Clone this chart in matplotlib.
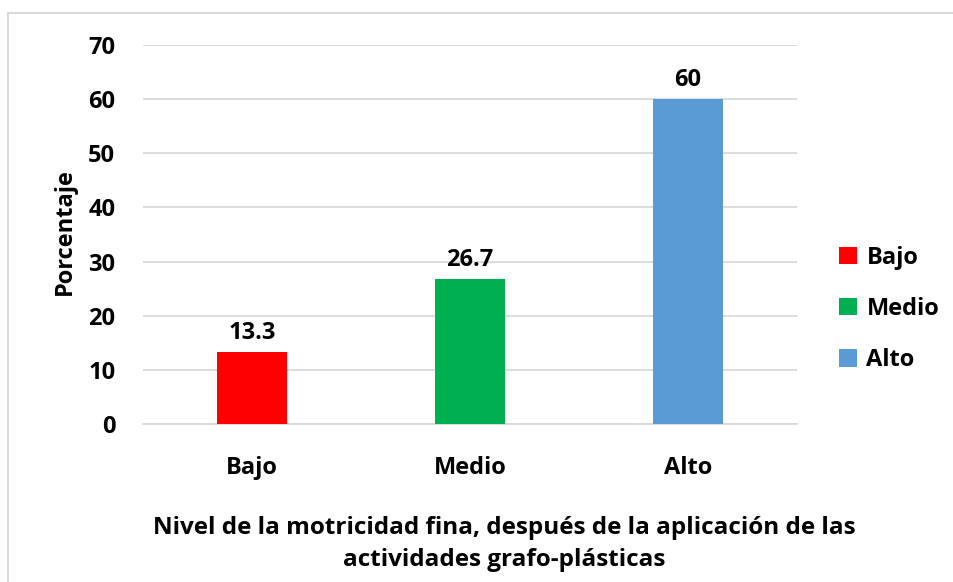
import matplotlib
matplotlib.use("Agg")
import matplotlib.pyplot as plt
from matplotlib.lines import Line2D
from matplotlib.patches import Patch

categories = ["Bajo", "Medio", "Alto"]
values = [13.3, 26.7, 60]
value_labels = ["13.3", "26.7", "60"]
colors = ["#ff0000", "#00b050", "#5b9bd5"]
yticks = [0, 10, 20, 30, 40, 50, 60, 70]
ylabel = "Porcentaje"
xlabel = "Nivel de la motricidad fina, después de la aplicación de las\nactividades grafo-plásticas"

plt.rcParams['font.family'] = ['Open Sans', 'DejaVu Sans']
plt.rcParams['font.weight'] = 'bold'
FS = 17

W, H = 954, 582
fig = plt.figure(figsize=(W/100, H/100), dpi=100)
ax = fig.add_axes([143/W, 1-424/H, (797-143)/W, (424-45)/H])

x = list(range(len(categories)))
bars = ax.bar(x, values, width=0.32, color=colors, zorder=3)
ax.set_xlim(-0.5, 2.5)
ax.set_ylim(0, 70)
ax.set_yticks(yticks)
ax.set_yticklabels([str(t) for t in yticks], fontsize=FS, fontweight='bold')
ax.set_xticks(x)
ax.set_xticklabels(categories, fontsize=FS, fontweight='bold')
ax.tick_params(axis='both', length=0)
ax.tick_params(axis='y', pad=20)
ax.tick_params(axis='x', pad=23)
ax.grid(axis='y', color='#d9d9d9', linewidth=1.3, zorder=0)
for s in ['top', 'right', 'left']:
    ax.spines[s].set_visible(False)
ax.spines['bottom'].set_color('#d9d9d9')
ax.spines['bottom'].set_linewidth(1.3)

for xi, v, lab in zip(x, values, value_labels):
    ax.annotate(lab, (xi, v), xytext=(0, 5), textcoords='offset points',
                ha='center', va='bottom', fontsize=FS, fontweight='bold')

fig.text(65/W, 1-232/H, ylabel, rotation=90, ha='center', va='center',
         fontsize=FS, fontweight='bold')
fig.text(504/W, 1-544/H, xlabel, ha='center', va='center', fontsize=17.5,
         fontweight='bold', linespacing=1.45)

handles = [Patch(facecolor=c) for c in colors]
leg = fig.legend(handles, categories, loc='center left',
                 bbox_to_anchor=(818/W, 1-309/H), frameon=False,
                 prop={'size': FS, 'weight': 'bold'},
                 handlelength=0.75, handleheight=0.75, labelspacing=1.15,
                 handletextpad=0.4)

fig.add_artist(Line2D([8/W, 1], [1-13/H, 1-13/H], color='#d9d9d9', linewidth=1.5))
fig.add_artist(Line2D([8/W, 8/W], [0, 1-13/H], color='#d9d9d9', linewidth=1.5))

fig.savefig("out.png", dpi=100)
